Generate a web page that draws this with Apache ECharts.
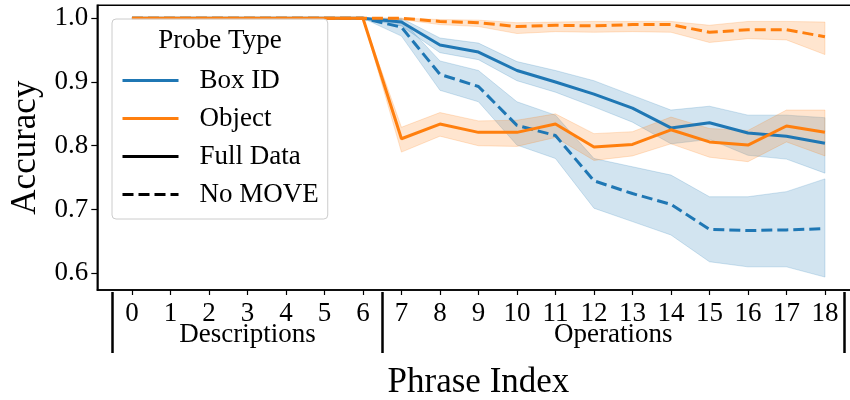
<!DOCTYPE html>
<html>
<head>
<meta charset="utf-8">
<title>Probe accuracy by phrase index</title>
<script src="https://cdn.jsdelivr.net/npm/echarts@6/dist/echarts.min.js"></script>
<style>
  html, body { margin: 0; padding: 0; background: #fff; }
  #chart { width: 850px; height: 400px; }
</style>
</head>
<body>
<div id="chart"></div>
<script>
// Phrase positions and tick labels
const phraseIndex = [0, 1, 2, 3, 4, 5, 6, 7, 8, 9, 10, 11, 12, 13, 14, 15, 16, 17, 18];
const tickLabels = phraseIndex.map(String);
const yTicks = [0.6, 0.7, 0.8, 0.9, 1.0];

// Phrase groups: name, first and last index
const groupNames = ['Descriptions', 'Operations'];
const groupStart = [0, 7];
const groupEnd = [6, 18];

// Box ID probe, full data: mean and confidence band
const boxFull   = [1, 1, 1, 1, 1, 1, 1, 0.994, 0.958, 0.947, 0.918, 0.900, 0.881, 0.859, 0.828, 0.836, 0.820, 0.815, 0.804];
const boxFullLo = [1, 1, 1, 1, 1, 1, 1, 0.988, 0.946, 0.935, 0.902, 0.884, 0.861, 0.837, 0.803, 0.810, 0.785, 0.779, 0.757];
const boxFullHi = [1, 1, 1, 1, 1, 1, 1, 1.000, 0.969, 0.961, 0.932, 0.918, 0.902, 0.879, 0.856, 0.862, 0.848, 0.848, 0.844];

// Box ID probe, no MOVE
const boxNoMove   = [1, 1, 1, 1, 1, 1, 1, 0.986, 0.912, 0.893, 0.832, 0.816, 0.745, 0.725, 0.708, 0.669, 0.667, 0.668, 0.670];
const boxNoMoveLo = [1, 1, 1, 1, 1, 1, 1, 0.972, 0.887, 0.869, 0.801, 0.780, 0.702, 0.681, 0.660, 0.618, 0.610, 0.610, 0.594];
const boxNoMoveHi = [1, 1, 1, 1, 1, 1, 1, 0.998, 0.933, 0.918, 0.869, 0.848, 0.780, 0.767, 0.754, 0.720, 0.720, 0.728, 0.748];

// Object probe, full data
const objFull   = [1, 1, 1, 1, 1, 1, 1, 0.811, 0.834, 0.821, 0.821, 0.834, 0.798, 0.802, 0.825, 0.806, 0.801, 0.831, 0.821];
const objFullLo = [1, 1, 1, 1, 1, 1, 1, 0.790, 0.815, 0.800, 0.799, 0.813, 0.777, 0.784, 0.803, 0.782, 0.775, 0.806, 0.784];
const objFullHi = [1, 1, 1, 1, 1, 1, 1, 0.829, 0.852, 0.839, 0.840, 0.850, 0.819, 0.822, 0.845, 0.827, 0.824, 0.856, 0.856];

// Object probe, no MOVE
const objNoMove   = [1, 1, 1, 1, 1, 1, 1, 1.000, 0.995, 0.993, 0.987, 0.989, 0.988, 0.990, 0.990, 0.978, 0.982, 0.982, 0.971];
const objNoMoveLo = [1, 1, 1, 1, 1, 1, 1, 0.998, 0.990, 0.987, 0.976, 0.979, 0.978, 0.979, 0.978, 0.962, 0.968, 0.966, 0.943];
const objNoMoveHi = [1, 1, 1, 1, 1, 1, 1, 1.000, 0.998, 0.997, 0.993, 0.994, 0.995, 0.995, 0.995, 0.989, 0.995, 0.995, 0.994];

const legendTitle = 'Probe Type';
const legendNames = ['Box ID', 'Object', 'Full Data', 'No MOVE'];

const BLUE = '#1f77b4';
const ORANGE = '#ff7f0e';
const FONT = '"Liberation Serif", "Times New Roman", serif';
const DASH = [11, 5];

function alpha(hex, a) {
  const n = parseInt(hex.slice(1), 16);
  return 'rgba(' + (n >> 16 & 255) + ',' + (n >> 8 & 255) + ',' + (n & 255) + ',' + a + ')';
}

// Shaded band between lower and upper bounds, drawn as one polygon
function bandSeries(name, color, lo, hi) {
  return {
    type: 'custom',
    name: name,
    silent: true,
    z: 1,
    encode: { x: 0, y: [1, 2] },
    data: phraseIndex.map((x, i) => [x, lo[i], hi[i]]),
    renderItem: function (params, api) {
      if (params.dataIndexInside !== 0) return;
      const n = params.dataInsideLength;
      const upper = [];
      const lower = [];
      for (let i = 0; i < n; i++) {
        upper.push(api.coord([api.value(0, i), api.value(2, i)]));
        lower.push(api.coord([api.value(0, i), api.value(1, i)]));
      }
      return {
        type: 'polygon',
        shape: { points: upper.concat(lower.reverse()) },
        style: { fill: alpha(color, 0.2), stroke: alpha(color, 0.2), lineWidth: 1 }
      };
    }
  };
}

function meanSeries(name, color, values, dashed) {
  return {
    type: 'line',
    name: name,
    z: 3,
    silent: true,
    symbol: 'none',
    animation: false,
    data: phraseIndex.map((x, i) => [x, values[i]]),
    lineStyle: { color: color, width: 3, type: dashed ? DASH : 'solid' },
    itemStyle: { color: color }
  };
}

// Legend-only entries (no data)
function legendSeries(name, color, dashed) {
  return {
    type: 'line',
    name: name,
    symbol: 'none',
    data: [],
    lineStyle: { color: color, width: 3, type: dashed ? DASH : 'solid' },
    itemStyle: { color: color }
  };
}

const groupCenters = groupNames.map((_, i) => (groupStart[i] + groupEnd[i]) / 2);
const groupEdges = [groupStart[0] - 0.5].concat(groupEnd.map(e => e + 0.5));

const chart = echarts.init(document.getElementById('chart'), null, { renderer: 'canvas' });

chart.setOption({
  animation: false,
  backgroundColor: '#ffffff',
  grid: {
    left: 97.3, top: 5.3, height: 284.7, right: -9.6,
    show: true, borderColor: '#000', borderWidth: 1.5, backgroundColor: 'transparent',
    containLabel: false, outerBoundsMode: 'none'
  },
  xAxis: [
    {
      type: 'value', min: -0.9, max: 18.9, position: 'bottom',
      axisLine: { show: true, onZero: false, lineStyle: { color: '#000', width: 1.5 } },
      axisTick: { show: true, customValues: phraseIndex, length: 5, lineStyle: { color: '#000', width: 1.2 } },
      axisLabel: {
        show: true, customValues: phraseIndex, margin: 24, verticalAlign: 'middle',
        formatter: v => tickLabels[phraseIndex.indexOf(Math.round(v))],
        fontFamily: FONT, fontSize: 27, color: '#000'
      },
      splitLine: { show: false },
      name: 'Phrase Index', nameLocation: 'middle', nameGap: 93,
      nameTextStyle: { fontFamily: FONT, fontSize: 35, color: '#000', verticalAlign: 'middle' }
    },
    {
      type: 'value', min: -0.9, max: 18.9, position: 'bottom', offset: 2,
      axisLine: { show: false },
      axisTick: { show: true, customValues: groupEdges, length: 61, lineStyle: { color: '#000', width: 2.5 } },
      axisLabel: {
        show: true, customValues: groupCenters, margin: 43, verticalAlign: 'middle',
        formatter: v => groupNames[groupCenters.indexOf(v)],
        fontFamily: FONT, fontSize: 27, color: '#000'
      },
      splitLine: { show: false }
    }
  ],
  yAxis: {
    type: 'value', min: 0.5737, max: 1.0203,
    axisLine: { show: true, onZero: false, lineStyle: { color: '#000', width: 1.5 } },
    axisTick: { show: true, customValues: yTicks, length: 6, lineStyle: { color: '#000', width: 1.2 } },
    axisLabel: {
      show: true, customValues: yTicks, margin: 9,
      formatter: v => v.toFixed(1),
      fontFamily: FONT, fontSize: 27, color: '#000'
    },
    splitLine: { show: false },
    name: 'Accuracy', nameLocation: 'middle', nameGap: 70, nameRotate: 90,
    nameTextStyle: { fontFamily: FONT, fontSize: 35, color: '#000', verticalAlign: 'middle' }
  },
  legend: {
    orient: 'vertical', left: 112, top: 19,
    padding: [48, 9, 11, 9],
    itemWidth: 56, itemHeight: 14, itemGap: 11,
    selectedMode: false,
    backgroundColor: 'rgba(255,255,255,0.8)', borderColor: '#cccccc', borderWidth: 1, borderRadius: 4,
    itemStyle: { color: 'rgba(0,0,0,0)', borderColor: 'rgba(0,0,0,0)', borderWidth: 0, opacity: 0 },
    lineStyle: { width: 3 },
    textStyle: { fontFamily: FONT, fontSize: 27, color: '#000', lineHeight: 27, padding: [0, 0, 0, 16] },
    data: legendNames,
    z: 10
  },
  graphic: [{
    type: 'text', x: 220, y: 41, z: 100,
    style: { text: legendTitle, fontFamily: FONT, fontSize: 27, fill: '#000', align: 'center', verticalAlign: 'middle' }
  }],
  series: [
    bandSeries('Box ID / Full Data band', BLUE, boxFullLo, boxFullHi),
    bandSeries('Box ID / No MOVE band', BLUE, boxNoMoveLo, boxNoMoveHi),
    bandSeries('Object / Full Data band', ORANGE, objFullLo, objFullHi),
    bandSeries('Object / No MOVE band', ORANGE, objNoMoveLo, objNoMoveHi),
    meanSeries('Box ID / Full Data', BLUE, boxFull, false),
    meanSeries('Box ID / No MOVE', BLUE, boxNoMove, true),
    meanSeries('Object / Full Data', ORANGE, objFull, false),
    meanSeries('Object / No MOVE', ORANGE, objNoMove, true),
    legendSeries('Box ID', BLUE, false),
    legendSeries('Object', ORANGE, false),
    legendSeries('Full Data', '#000', false),
    legendSeries('No MOVE', '#000', true)
  ]
});
</script>
</body>
</html>
